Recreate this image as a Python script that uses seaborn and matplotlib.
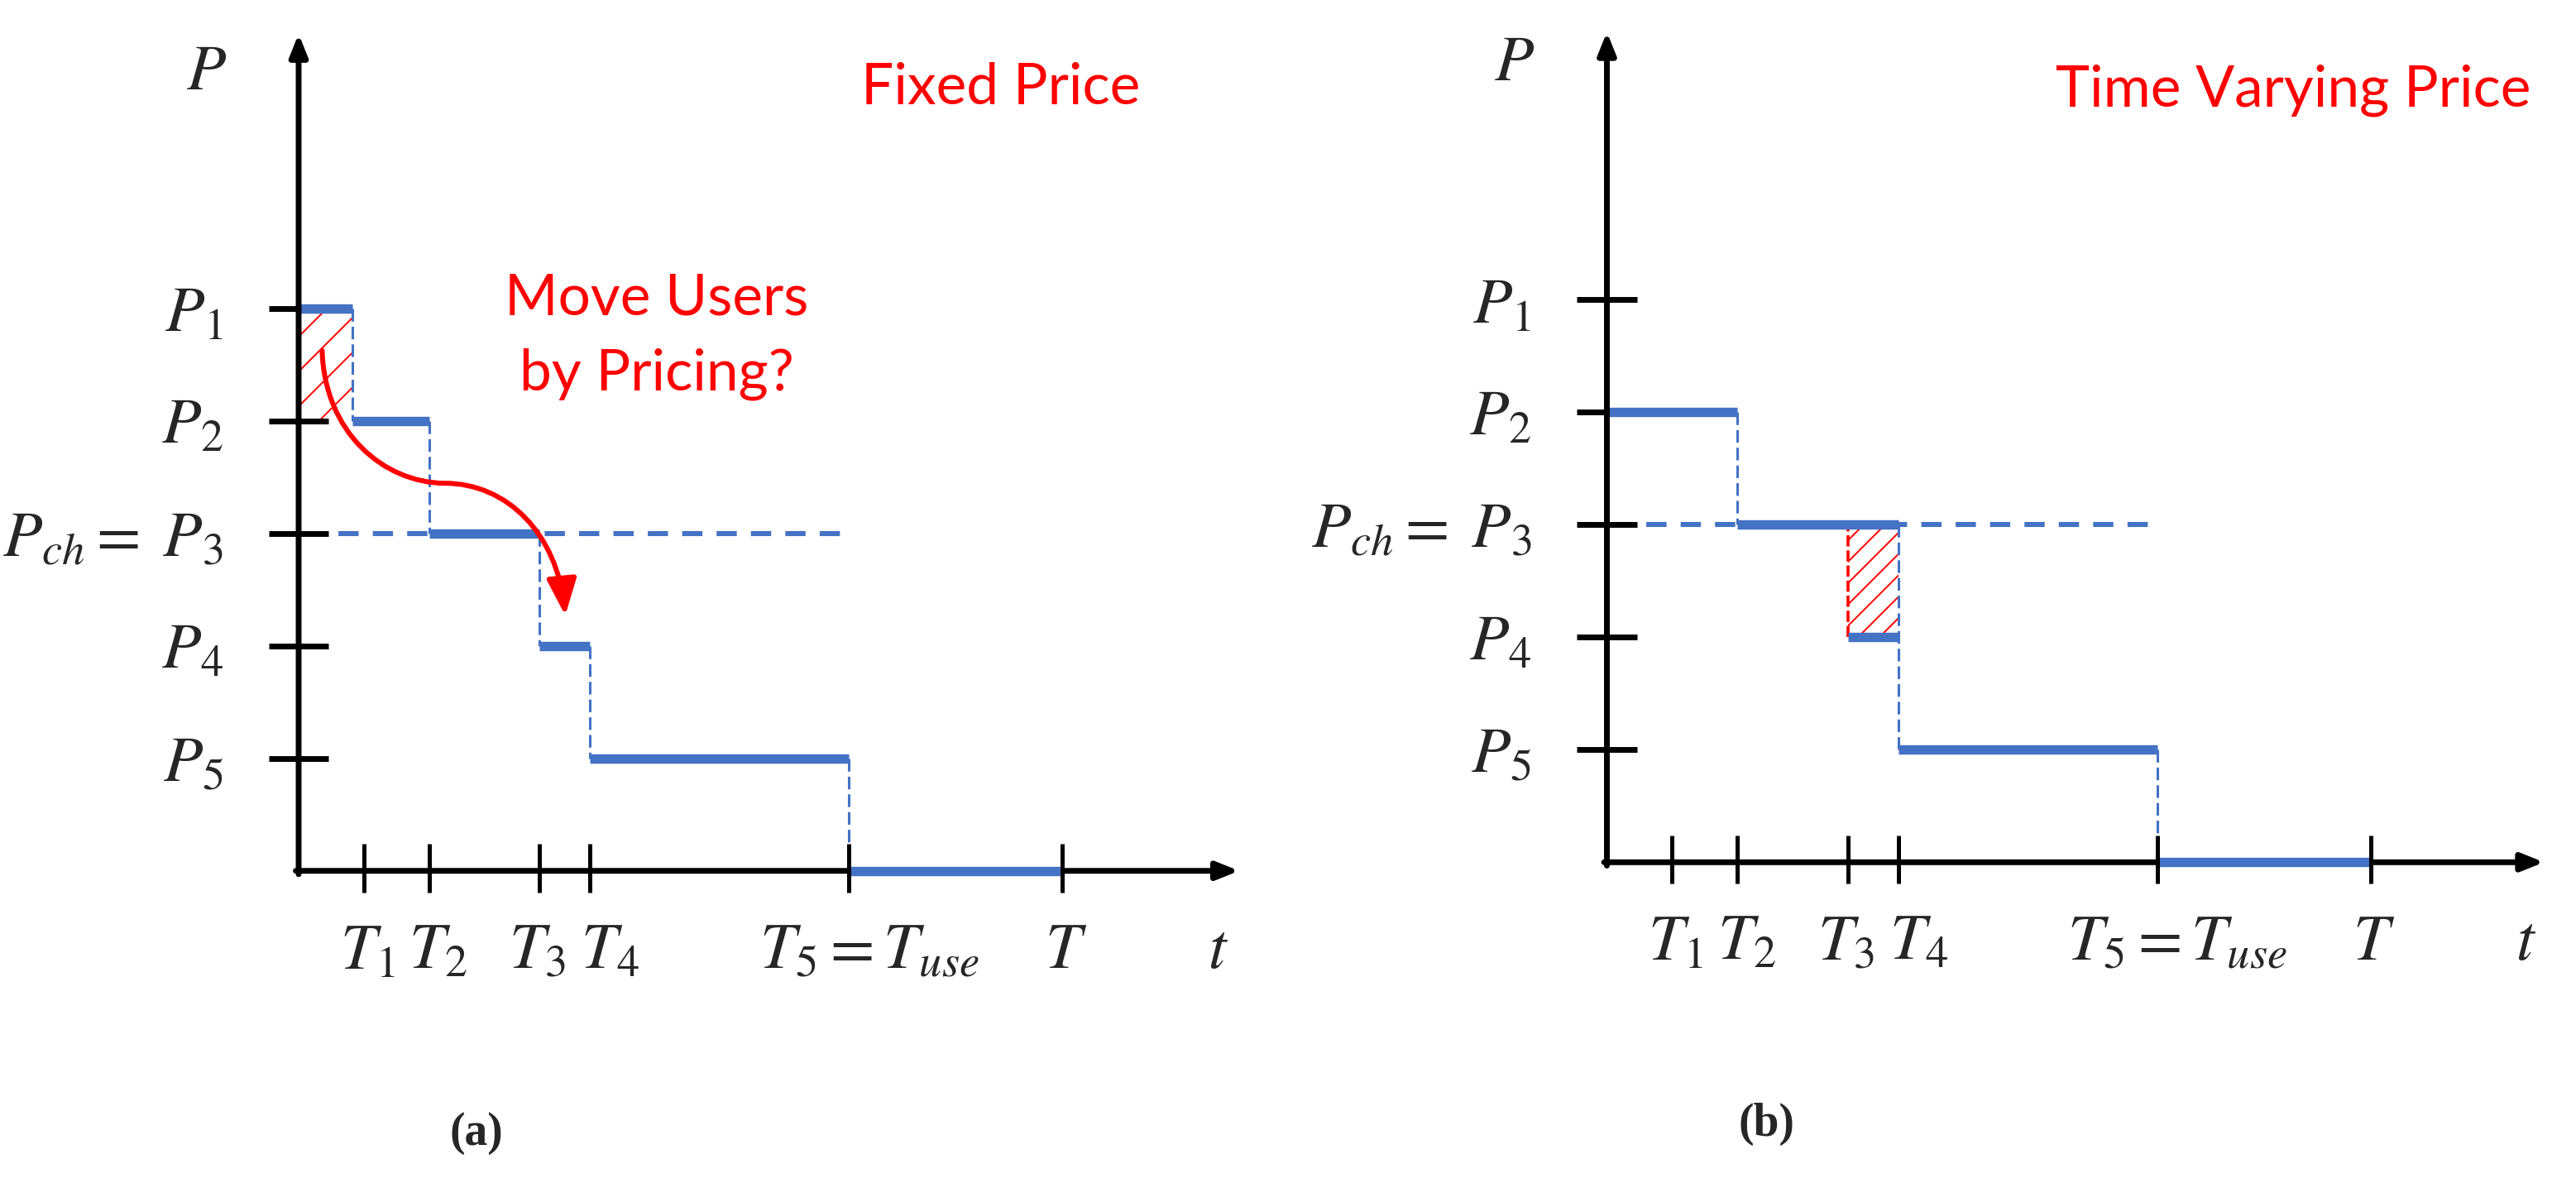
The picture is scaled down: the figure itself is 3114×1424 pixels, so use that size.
import matplotlib
matplotlib.use("Agg")
import matplotlib.pyplot as plt
import numpy as np
import pandas as pd
import seaborn as sns
from matplotlib.patches import FancyArrowPatch, Rectangle
from matplotlib.path import Path

# ------------------------------------------------------------------ data
price_names = ["$P_1$", "$P_2$", "$P_{ch}{=}\\;P_3$", "$P_4$", "$P_5$"]
price_levels = [5, 4, 3, 2, 1]
time_names = ["$T_1$", "$T_2$", "$T_3$", "$T_4$", "$T_5 = T_{use}$", "$T$"]
time_ticks = [0.58, 1.16, 2.14, 2.59, 4.89, 6.79]
charge_level = 3          # P_ch = P_3
charge_until = 4.89       # dashed P_ch line ends at T_5

# panel (a): fixed price
a_start = [0.0, 0.476, 1.16, 2.14, 2.59, 4.89]
a_end = [0.476, 1.16, 2.14, 2.59, 4.89, 6.79]
a_price = [5, 4, 3, 2, 1, 0]
a_hatch = [0.0, 0.476, 4, 5]          # x0, x1, y0, y1

# panel (b): time varying price
b_start = [0.0, 1.16, 2.59, 4.89]
b_end = [1.16, 2.59, 4.89, 6.79]
b_price = [4, 3, 1, 0]
b_extra_start = [2.14]
b_extra_end = [2.59]
b_extra_price = [2]
b_hatch = [2.14, 2.59, 2, 3]

# ------------------------------------------------------------------ style
sns.set_theme(style="white")
plt.rcParams["mathtext.fontset"] = "stix"
plt.rcParams["font.family"] = ["Lato", "DejaVu Sans"]

BLUE = "#4472C4"
RED = "#FF0000"
U = 136.0  # pixels per data unit

W, H = 3114, 1424
fig = plt.figure(figsize=(W / 100, H / 100), dpi=100)
fig.patch.set_facecolor("white")


def make_axes(left_px, origin_x, origin_y):
    ax = fig.add_axes([left_px / W, 0, (W / 2) / W, 1])
    ax.set_xlim((left_px - origin_x) / U, (left_px + W / 2 - origin_x) / U)
    ax.set_ylim((origin_y - H) / U, origin_y / U)
    ax.axis("off")
    return ax


def seg_frame(starts, ends, prices):
    rows = []
    for i, (s, e, p) in enumerate(zip(starts, ends, prices)):
        rows.append({"t": s, "p": p, "seg": i})
        rows.append({"t": e, "p": p, "seg": i})
    return pd.DataFrame(rows)


def hatch(ax, box, spacing, phase):
    x0, x1, y0, y1 = box
    rect = Rectangle((x0, y0), x1 - x0, y1 - y0, fill=False, lw=0)
    ax.add_patch(rect)
    c = phase
    while c > y0 - x1:
        c -= spacing
    while c < y1 - x0:
        ln, = ax.plot([x0 - 1, x1 + 1], [x0 - 1 + c, x1 + 1 + c], color=RED, lw=1.4, zorder=1.5)
        ln.set_clip_path(rect)
        c += spacing


def axes_frame(ax, ytop, xtip):
    ax.add_patch(FancyArrowPatch((0, -0.03), (0, ytop),
                                 arrowstyle="-|>,head_length=0.8,head_width=0.32",
                                 mutation_scale=20, lw=5, color="black",
                                 shrinkA=0, shrinkB=0, zorder=3.5, clip_on=False))
    ax.add_patch(FancyArrowPatch((-0.025, 0), (xtip, 0),
                                 arrowstyle="-|>,head_length=0.8,head_width=0.32",
                                 mutation_scale=20, lw=5, color="black",
                                 shrinkA=0, shrinkB=0, zorder=2, clip_on=False))
    for lvl, name in zip(price_levels, price_names):
        ax.plot([-0.265, 0.265], [lvl, lvl], color="black", lw=5,
                solid_capstyle="butt", zorder=2.6)
        ax.text(-0.67, lvl - 0.2, name, ha="right", va="baseline", fontsize=56)
    offs = [0.03, 0.08, -0.02, 0.18, 0.18, 0.03]
    for t, name, o in zip(time_ticks, time_names, offs):
        ax.plot([t, t], [-0.19, 0.24], color="black", lw=3.6,
                solid_capstyle="butt", zorder=4)
        ax.text(t + o, -0.865, name, ha="center", va="baseline", fontsize=56)
    ax.text(-0.82, 6.95, "$P$", ha="center", va="baseline", fontsize=56)
    ax.text(8.17, -0.865, "$t$", ha="center", va="baseline", fontsize=56)
    # P_ch reference line
    ax.plot([-0.26, charge_until], [charge_level, charge_level], color=BLUE,
            lw=4.4, ls=(0, (4.0, 2.8)), zorder=2)


def steps(ax, starts, ends, prices):
    df = seg_frame(starts, ends, prices)
    sns.lineplot(data=df, x="t", y="p", units="seg", estimator=None, sort=False,
                 color=BLUE, lw=8.2, solid_capstyle="butt", legend=False,
                 ax=ax, zorder=3)


def connectors(ax, ends, prices):
    for e, p0, p1 in zip(ends[:-1], prices[:-1], prices[1:]):
        ax.plot([e, e], [p0, p1], color=BLUE, lw=2.2, ls=(0, (5, 2)), zorder=2.8)


# ------------------------------------------------------------------ panel (a)
axA = make_axes(0, 361, 1052.7)
axes_frame(axA, 7.44, 8.36)
steps(axA, a_start, a_end, a_price)
connectors(axA, a_end, a_price)
hatch(axA, a_hatch, 0.31, 4.748)
axA.set_xlabel("")
axA.set_ylabel("")

verts = [(0.209, 4.625), (0.23, 3.9), (0.75, 3.45), (1.3, 3.445),
         (1.85, 3.445), (2.3, 3.0), (2.37, 2.27)]
codes = [Path.MOVETO] + [Path.CURVE4] * 6
axA.add_patch(FancyArrowPatch(path=Path(verts, codes),
                              arrowstyle="-|>,head_length=1.35,head_width=0.55",
                              mutation_scale=20, lw=4.3, color=RED, zorder=5))
axA.text(6.24, 6.816, "Fixed Price", color=RED, fontsize=50, ha="center", va="baseline")
axA.text(3.18, 4.946, "Move Users", color=RED, fontsize=50, ha="center", va="baseline")
axA.text(3.18, 4.27, "by Pricing?", color=RED, fontsize=50, ha="center", va="baseline")
axA.text(1.58, -2.33, "(a)", fontsize=40, fontweight="bold",
         family=["Liberation Serif", "DejaVu Serif"], ha="center", va="center")

# ------------------------------------------------------------------ panel (b)
axB = make_axes(W / 2, 1942.5, 1042.3)
axes_frame(axB, 7.38, 8.33)
steps(axB, b_start, b_end, b_price)
steps(axB, b_extra_start, b_extra_end, b_extra_price)
connectors(axB, b_end, b_price)
hatch(axB, b_hatch, 0.19, 0.528)
axB.plot([b_hatch[0], b_hatch[0]], [b_hatch[2], b_hatch[3]], color=RED, lw=2.6,
         ls=(0, (3.75, 1.3)), zorder=2.9)
axB.set_xlabel("")
axB.set_ylabel("")
axB.text(6.1, 6.72, "Time Varying Price", color=RED, fontsize=50, ha="center", va="baseline")
axB.text(1.42, -2.33, "(b)", fontsize=40, fontweight="bold",
         family=["Liberation Serif", "DejaVu Serif"], ha="center", va="center")

fig.savefig("out.png", dpi=100, facecolor="white")
